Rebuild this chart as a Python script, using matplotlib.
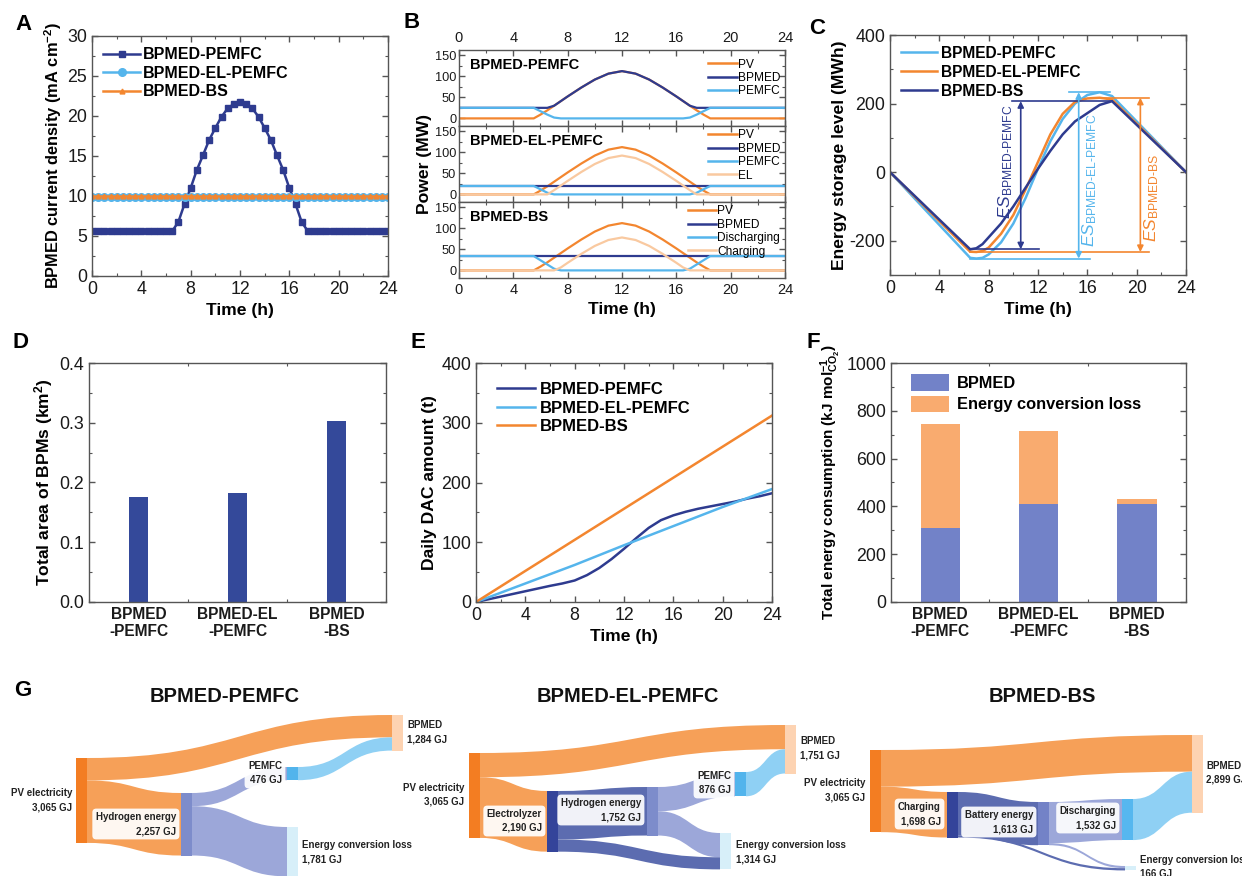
import numpy as np
import matplotlib
matplotlib.use('Agg')
import matplotlib.pyplot as plt
from matplotlib.path import Path
from matplotlib.patches import PathPatch, Rectangle
from matplotlib.lines import Line2D
from matplotlib.ticker import MultipleLocator, FormatStrFormatter

plt.rcParams['font.family'] = ['Liberation Sans', 'DejaVu Sans']
plt.rcParams['mathtext.fontset'] = 'custom'
plt.rcParams['mathtext.rm'] = 'Liberation Sans'
plt.rcParams['mathtext.it'] = 'Liberation Sans:italic'
plt.rcParams['mathtext.bf'] = 'Liberation Sans:bold'
plt.rcParams['axes.unicode_minus'] = False

NAVY = '#2e3b8f'
LBLUE = '#55b5ec'
ORANGE = '#f3862f'
PEACH = '#f9c9a0'
BAR_D = '#34499a'
BAR_BP = '#7282c8'
BAR_LOSS = '#f9ab6f'

# ---------------- data ----------------
# Panel A
time_a = np.arange(0, 24.5, 0.5)
pemfc_a = [5.6, 5.6, 5.6, 5.6, 5.6, 5.6, 5.6, 5.6, 5.6, 5.6, 5.6, 5.6, 5.6, 5.6,
           6.75, 9.0, 11.0, 13.25, 15.1, 17.0, 18.5, 19.9, 20.95, 21.5, 21.7,
           21.5, 20.95, 19.9, 18.5, 17.0, 15.1, 13.25, 11.0, 9.0, 6.75,
           5.6, 5.6, 5.6, 5.6, 5.6, 5.6, 5.6, 5.6, 5.6, 5.6, 5.6, 5.6, 5.6, 5.6]
el_pemfc_a = [9.9] * len(time_a)
bs_a = [10.05] * len(time_a)

# Panel B
time_b = [0, 5.5, 6, 6.5, 7, 7.5, 8, 9, 10, 11, 12, 13, 14, 15, 16, 16.5, 17, 17.5, 18, 18.5, 24]
pv_b = [0, 0, 9, 19, 30, 41, 52, 73, 92, 106, 112, 106, 92, 73, 52, 41, 30, 19, 9, 0, 0]
bpmed_b1 = [25, 25, 25, 25, 30, 41, 52, 73, 92, 106, 112, 106, 92, 73, 52, 41, 30, 25, 25, 25, 25]
pemfc_b1 = [25, 25, 17, 9, 2, 0, 0, 0, 0, 0, 0, 0, 0, 0, 0, 0, 2, 9, 17, 25, 25]
bpmed_b2 = [20] * len(time_b)
pemfc_b2 = [20, 20, 12, 4, 0, 0, 0, 0, 0, 0, 0, 0, 0, 0, 0, 0, 0, 4, 12, 20, 20]
el_b2 = [0, 0, 0, 0, 10, 21, 32, 53, 72, 86, 92, 86, 72, 53, 32, 21, 10, 0, 0, 0, 0]
bpmed_b3 = [34] * len(time_b)
disch_b3 = [34, 34, 24, 14, 4, 0, 0, 0, 0, 0, 0, 0, 0, 0, 0, 0, 4, 14, 24, 34, 34]
charg_b3 = [0, 0, 0, 0, 0, 7, 18, 39, 58, 72, 78, 72, 58, 39, 18, 7, 0, 0, 0, 0, 0]

# Panel C
time_c = [0, 6.5, 7, 7.5, 8, 9, 10, 11, 12, 13, 14, 15, 16, 17, 18, 24]
es_pemfc_c = [0, -250, -252, -250, -240, -205, -150, -75, 10, 90, 155, 200, 225, 233, 222, 0]
es_el_c = [0, -232, -233, -230, -220, -180, -125, -50, 30, 110, 170, 205, 215, 217, 212, 0]
es_bs_c = [0, -225, -222, -210, -190, -150, -100, -45, 10, 62, 110, 148, 172, 196, 207, 0]

# Panel D
categories = ['BPMED\n-PEMFC', 'BPMED-EL\n-PEMFC', 'BPMED\n-BS']
bpm_area = [0.176, 0.183, 0.303]

# Panel E
time_e = [0, 1, 2, 3, 4, 5, 6, 7, 8, 9, 10, 11, 12, 13, 14, 15, 16, 17, 18, 19, 20, 21, 22, 23, 24]
dac_pemfc = [0, 4.5, 9, 13.5, 18, 22.5, 27, 31, 36, 45, 57, 72, 89, 107, 124, 137, 145,
             151, 156, 160, 164, 168, 173, 177, 182]
time_e2 = [0, 4, 8, 12, 16, 20, 24]
dac_el = [0, 31, 62, 95, 127, 159, 189]
dac_bs = [0, 52, 104, 156, 208, 260, 312]

# Panel F
energy_bpmed = [310, 408, 408]
energy_loss = [435, 308, 22]

# Panel G (sankey values, GJ)
s1_values = {'PV electricity': 3065, 'BPMED': 1284, 'Hydrogen energy': 2257,
             'PEMFC': 476, 'Energy conversion loss': 1781}
s1_links = [('PV electricity', 'BPMED', 808), ('PV electricity', 'Hydrogen energy', 2257),
            ('Hydrogen energy', 'PEMFC', 476), ('Hydrogen energy', 'Energy conversion loss', 1781),
            ('PEMFC', 'BPMED', 476)]
s2_values = {'PV electricity': 3065, 'BPMED': 1751, 'Electrolyzer': 2190,
             'Hydrogen energy': 1752, 'PEMFC': 876, 'Energy conversion loss': 1314}
s2_links = [('PV electricity', 'BPMED', 875), ('PV electricity', 'Electrolyzer', 2190),
            ('Electrolyzer', 'Hydrogen energy', 1752), ('Hydrogen energy', 'PEMFC', 876),
            ('Hydrogen energy', 'Energy conversion loss', 876),
            ('Electrolyzer', 'Energy conversion loss', 438), ('PEMFC', 'BPMED', 876)]
s3_values = {'PV electricity': 3065, 'BPMED': 2899, 'Charging': 1698,
             'Battery energy': 1613, 'Discharging': 1532, 'Energy conversion loss': 166}
s3_links = [('PV electricity', 'BPMED', 1367), ('PV electricity', 'Charging', 1698),
            ('Charging', 'Battery energy', 1613), ('Battery energy', 'Discharging', 1532),
            ('Battery energy', 'Energy conversion loss', 81),
            ('Charging', 'Energy conversion loss', 85), ('Discharging', 'BPMED', 1532)]

# ---------------- figure ----------------
W, H = 1242, 876
fig = plt.figure(figsize=(W / 100, H / 100), dpi=100)


def add_ax(x0, y0, x1, y1):
    return fig.add_axes([x0 / W, 1 - y1 / H, (x1 - x0) / W, (y1 - y0) / H])


def style(ax, fs=12.8):
    ax.tick_params(which='both', direction='in', top=True, right=True,
                   color='#555555', labelcolor='#1a1a1a', labelsize=fs)
    ax.tick_params(which='major', length=4, width=1)
    ax.tick_params(which='minor', length=2.5, width=0.8)
    for s in ax.spines.values():
        s.set_color('#555555')
        s.set_linewidth(1)


def letter(px, py, s):
    fig.text(px / W, 1 - py / H, s, fontsize=16, fontweight='bold', ha='center', va='center')


LBL = dict(fontsize=12.6, fontweight='bold')

# Panel A
ax = add_ax(92, 36, 388, 276)
ax.plot(time_a, pemfc_a, '-s', color=NAVY, ms=4, lw=1.8, label='BPMED-PEMFC')
ax.plot(time_a, el_pemfc_a, '-o', color=LBLUE, ms=5.5, lw=1.8, label='BPMED-EL-PEMFC')
ax.plot(time_a, bs_a, '-^', color=ORANGE, ms=3.5, lw=1.8, label='BPMED-BS')
ax.set_xlim(0, 24)
ax.set_ylim(0, 30)
ax.xaxis.set_major_locator(MultipleLocator(4))
ax.xaxis.set_minor_locator(MultipleLocator(2))
ax.yaxis.set_major_locator(MultipleLocator(5))
ax.yaxis.set_minor_locator(MultipleLocator(2.5))
style(ax)
ax.set_xlabel('Time (h)', **LBL)
ax.set_ylabel(r'BPMED current density (mA cm$^{\mathbf{-2}}$)', fontsize=11.8, fontweight='bold', labelpad=2)
ax.legend(loc='upper left', bbox_to_anchor=(0.0, 1.0), frameon=False, numpoints=1,
          prop={'weight': 'bold', 'size': 11.5}, handlelength=2.3, handletextpad=0.2,
          labelspacing=0.22, borderaxespad=0.3)
letter(23, 24, 'A')

# Panel B
b_specs = [
    ('BPMED-PEMFC', [('PV', pv_b, ORANGE), ('BPMED', bpmed_b1, NAVY), ('PEMFC', pemfc_b1, LBLUE)]),
    ('BPMED-EL-PEMFC', [('PV', pv_b, ORANGE), ('BPMED', bpmed_b2, NAVY), ('PEMFC', pemfc_b2, LBLUE),
                        ('EL', el_b2, PEACH)]),
    ('BPMED-BS', [('PV', pv_b, ORANGE), ('BPMED', bpmed_b3, NAVY), ('Discharging', disch_b3, LBLUE),
                  ('Charging', charg_b3, PEACH)]),
]
tops = [50, 126, 202]
for i, (title, series) in enumerate(b_specs):
    axb = add_ax(459, tops[i], 785, tops[i] + 76)
    handles = []
    for name, vals, col in series:
        axb.plot(time_b, vals, color=col, lw=1.6)
        handles.append(Line2D([0], [0], color=col, lw=1.8, label=name))
    axb.set_xlim(0, 24)
    axb.set_ylim(-18, 162)
    axb.xaxis.set_major_locator(MultipleLocator(4))
    axb.xaxis.set_minor_locator(MultipleLocator(2))
    axb.yaxis.set_major_locator(MultipleLocator(50))
    axb.yaxis.set_minor_locator(MultipleLocator(25))
    style(axb, fs=9.2)
    axb.tick_params(axis='y', pad=2)
    if i == 0:
        axb.tick_params(axis='x', labeltop=True, labelbottom=False, labelsize=10.5)
    elif i == 1:
        axb.tick_params(labelbottom=False)
    else:
        axb.set_xlabel('Time (h)', **LBL)
        axb.tick_params(labelsize=10.5, axis='x')
    axb.text(0.035, 0.80, title, transform=axb.transAxes, fontsize=10.5, fontweight='bold',
             ha='left', va='center')
    axb.legend(handles=handles, loc='upper right', bbox_to_anchor=(1.0, 1.02 if i else 0.95),
               frameon=False, fontsize=8.6, handlelength=2.4, handletextpad=0.1,
               labelspacing=0.12, borderaxespad=0.2, borderpad=0.2)
fig.text(424 / W, 1 - 164 / H, 'Power (MW)', rotation=90, ha='center', va='center', **LBL)
letter(412, 22, 'B')

# Panel C
ax = add_ax(890, 35, 1186, 275)
ax.plot(time_c, es_pemfc_c, color=LBLUE, lw=1.8, label='BPMED-PEMFC')
ax.plot(time_c, es_el_c, color=ORANGE, lw=1.8, label='BPMED-EL-PEMFC')
ax.plot(time_c, es_bs_c, color=NAVY, lw=1.8, label='BPMED-BS')
ax.set_xlim(0, 24)
ax.set_ylim(-300, 400)
ax.xaxis.set_major_locator(MultipleLocator(4))
ax.xaxis.set_minor_locator(MultipleLocator(2))
ax.yaxis.set_major_locator(MultipleLocator(200))
ax.yaxis.set_minor_locator(MultipleLocator(100))
style(ax)
ax.set_xlabel('Time (h)', **LBL)
ax.set_ylabel('Energy storage level (MWh)', labelpad=2, **LBL)
ax.legend(loc='upper left', bbox_to_anchor=(0.0, 1.0), frameon=False,
          prop={'weight': 'bold', 'size': 11.2}, handlelength=2.3, handletextpad=0.3,
          labelspacing=0.25, borderaxespad=0.3)
# ES range annotations
ann = [
    (es_bs_c, NAVY, 9.9, 18.0, 6.5, 12.1, 10.6, 9.35, r'$ES_{\text{BPMED-PEMFC}}$', 30),
    (es_pemfc_c, LBLUE, 14.5, 17.8, 6.5, 16.2, 15.3, 16.15, r'$ES_{\text{BPMED-EL-PEMFC}}$', -25),
    (es_el_c, ORANGE, 16.5, 21.0, 6.5, 21.0, 20.3, 21.2, r'$ES_{\text{BPMED-BS}}$', -75),
]
for ser, col, tx0, tx1, bx0, bx1, ax_x, txt_x, txt, txt_y in ann:
    top, bot = max(ser), min(ser)
    ax.plot([tx0, tx1], [top, top], color=col, lw=1.2)
    ax.plot([bx0, bx1], [bot, bot], color=col, lw=1.2)
    ax.annotate('', xy=(ax_x, bot), xytext=(ax_x, top),
                arrowprops=dict(arrowstyle='<|-|>', color=col, lw=1.2, shrinkA=0, shrinkB=0,
                                mutation_scale=9))
    ax.text(txt_x, txt_y, txt, rotation=90, color=col, fontsize=12.5, ha='center', va='center')
letter(817, 29, 'C')

# Panel D
xcat = np.arange(1, 4)
ax = add_ax(89, 363, 386, 602)
ax.bar(xcat, bpm_area, width=0.2, color=BAR_D)
ax.set_xlim(0.5, 3.5)
ax.set_ylim(0, 0.4)
ax.set_xticks(xcat)
ax.set_xticklabels(categories, fontweight='bold', fontsize=11)
ax.xaxis.set_minor_locator(MultipleLocator(1, offset=0.5))
ax.yaxis.set_major_locator(MultipleLocator(0.1))
ax.yaxis.set_minor_locator(MultipleLocator(0.05))
ax.yaxis.set_major_formatter(FormatStrFormatter('%.1f'))
style(ax)
ax.tick_params(axis='x', which='major', length=0, labelsize=11.2)
ax.set_ylabel(r'Total area of BPMs (km$^{\mathbf{2}}$)', labelpad=3, **LBL)
letter(21, 342, 'D')

# Panel E
ax = add_ax(476, 363, 772, 602)
ax.plot(time_e, dac_pemfc, color=NAVY, lw=1.8, label='BPMED-PEMFC')
ax.plot(time_e2, dac_el, color=LBLUE, lw=1.8, label='BPMED-EL-PEMFC')
ax.plot(time_e2, dac_bs, color=ORANGE, lw=1.8, label='BPMED-BS')
ax.set_xlim(0, 24)
ax.set_ylim(0, 400)
ax.xaxis.set_major_locator(MultipleLocator(4))
ax.xaxis.set_minor_locator(MultipleLocator(2))
ax.yaxis.set_major_locator(MultipleLocator(100))
ax.yaxis.set_minor_locator(MultipleLocator(50))
style(ax)
ax.set_xlabel('Time (h)', **LBL)
ax.set_ylabel('Daily DAC amount (t)', labelpad=3, **LBL)
ax.legend(loc='upper left', bbox_to_anchor=(0.03, 0.97), frameon=False,
          prop={'weight': 'bold', 'size': 12}, handlelength=2.3, handletextpad=0.3,
          labelspacing=0.22, borderaxespad=0.3)
letter(418, 342, 'E')

# Panel F
ax = add_ax(891, 363, 1186, 602)
ax.bar(xcat, energy_bpmed, width=0.4, color=BAR_BP, label='BPMED')
ax.bar(xcat, energy_loss, width=0.4, bottom=energy_bpmed, color=BAR_LOSS, label='Energy conversion loss')
ax.set_xlim(0.5, 3.5)
ax.set_ylim(0, 1000)
ax.set_xticks(xcat)
ax.set_xticklabels(categories, fontweight='bold', fontsize=11.2)
ax.xaxis.set_minor_locator(MultipleLocator(1, offset=0.5))
ax.yaxis.set_major_locator(MultipleLocator(200))
ax.yaxis.set_minor_locator(MultipleLocator(100))
style(ax)
ax.tick_params(axis='x', which='major', length=0, labelsize=11.2)
ax.set_ylabel(r'Total energy consumption (kJ mol$^{\mathbf{-1}}_{\mathbf{CO}_{\mathbf{2}}}$)',
              fontsize=11, fontweight='bold', labelpad=2)
ax.legend(loc='upper left', bbox_to_anchor=(0.03, 1.0), frameon=False,
          prop={'weight': 'bold', 'size': 11.8}, handlelength=2.3, handleheight=1.2,
          handletextpad=0.5, labelspacing=0.25, borderaxespad=0.3)
letter(813, 342, 'F')

# Panel G : sankey diagrams drawn in pixel space
axg = fig.add_axes([0, 0, 1, 1], zorder=-1)
axg.set_xlim(0, W)
axg.set_ylim(H, 0)
axg.axis('off')

NODE_W = 11
node_col = {'PV electricity': '#f37d22', 'BPMED': '#fdd3b2', 'Hydrogen energy': '#7d8ccb',
            'PEMFC': '#52b4ec', 'Energy conversion loss': '#d7eff9', 'Electrolyzer': '#34449a',
            'Charging': '#34449a', 'Battery energy': '#7382c7', 'Discharging': '#56b7ef'}
flow_col = {'PV electricity': '#f6a058', 'Hydrogen energy': '#9ca7d9', 'PEMFC': '#8fd0f4',
            'Electrolyzer': '#5c6cb0', 'Charging': '#5c6cb0', 'Battery energy': '#9ca7d9',
            'Discharging': '#8fd0f4'}
box = dict(boxstyle='round,pad=0.35,rounding_size=0.4', fc='white', ec='none', alpha=0.92)


def flow(x0, y0, x1, y1, h, color):
    xm = (x0 + x1) / 2
    verts = [(x0, y0), (xm, y0), (xm, y1), (x1, y1),
             (x1, y1 + h), (xm, y1 + h), (xm, y0 + h), (x0, y0 + h), (x0, y0)]
    codes = [Path.MOVETO, Path.CURVE4, Path.CURVE4, Path.CURVE4,
             Path.LINETO, Path.CURVE4, Path.CURVE4, Path.CURVE4, Path.CLOSEPOLY]
    axg.add_patch(PathPatch(Path(verts, codes), fc=color, ec='none', lw=0, zorder=1))


def sankey(values, links, layout, scale, title, title_xy):
    out_off = {n: 0.0 for n in values}
    in_off = {n: 0.0 for n in values}
    for src, dst, v in links:
        h = v * scale
        xs, ys = layout[src][0] + NODE_W, layout[src][1] + out_off[src]
        xd, yd = layout[dst][0], layout[dst][1] + in_off[dst]
        flow(xs, ys, xd, yd, h, flow_col[src])
        out_off[src] += h
        in_off[dst] += h
    for n, v in values.items():
        x, yt, lx, ly, ha, boxed = layout[n]
        axg.add_patch(Rectangle((x, yt), NODE_W, v * scale, fc=node_col[n], ec='none', zorder=2))
        axg.text(lx, ly, f'{n}\n{v:,} GJ', ha=ha, va='center', multialignment=ha,
                 fontsize=7, fontweight='bold', color='#222222', linespacing=1.5,
                 bbox=box if boxed else None, zorder=3)
    axg.text(title_xy[0], title_xy[1], title, ha='center', va='center', fontsize=14.5,
             fontweight='bold', color='#111111')


s1_layout = {'PV electricity': (76, 758, 72, 800, 'right', False),
             'BPMED': (392, 715, 407, 732, 'left', False),
             'Hydrogen energy': (181, 793, 176, 824, 'right', True),
             'PEMFC': (287, 767, 282, 773, 'right', True),
             'Energy conversion loss': (287, 827, 302, 852, 'left', False)}
s2_layout = {'PV electricity': (469, 753, 464, 795, 'right', False),
             'BPMED': (785, 725, 800, 748, 'left', False),
             'Electrolyzer': (547, 791, 542, 821, 'right', True),
             'Hydrogen energy': (647, 787, 641, 810, 'right', True),
             'PEMFC': (735, 772, 731, 783, 'right', True),
             'Energy conversion loss': (720, 833, 736, 852, 'left', False)}
s3_layout = {'PV electricity': (870, 750, 865, 790, 'right', False),
             'BPMED': (1192, 735, 1206, 773, 'left', False),
             'Charging': (947, 792, 941, 814, 'right', True),
             'Battery energy': (1038, 802, 1033, 822, 'right', True),
             'Discharging': (1122, 799, 1116, 818, 'right', True),
             'Energy conversion loss': (1125, 866, 1140, 867, 'left', False)}

sankey(s1_values, s1_links, s1_layout, 0.0277, 'BPMED-PEMFC', (225, 697))
sankey(s2_values, s2_links, s2_layout, 0.0277, 'BPMED-EL-PEMFC', (628, 697))
sankey(s3_values, s3_links, s3_layout, 0.0268, 'BPMED-BS', (1042, 697))
letter(23, 690, 'G')

fig.savefig('out.png', dpi=100)
